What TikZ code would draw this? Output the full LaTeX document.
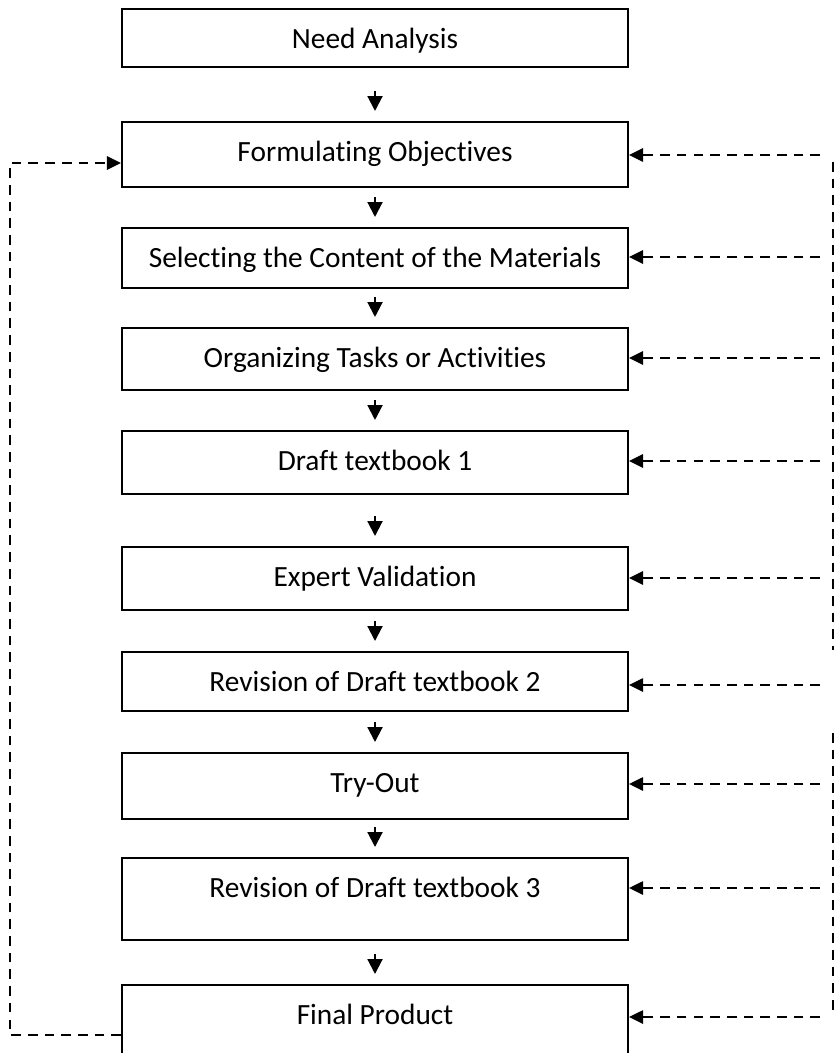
\documentclass[tikz,border=0pt]{standalone}
\usepackage{fontspec}
\setmainfont{Carlito}[Ligatures={NoCommon,NoContextual}]
\usetikzlibrary{calc,arrows.meta}

\begin{document}
\begin{tikzpicture}[%
        x=0.02cm, y=-0.02cm,
        every node/.style={font=\fontsize{16.7}{20}\selectfont},
        stage/.style={rectangle, draw=black, line width=1.2pt, inner xsep=0pt, inner ysep=0pt,
            minimum width=10.12cm, anchor=north, text height=0.78cm},
        flow/.style={line width=1.2pt, -{Triangle[length=8.5pt,width=8.5pt]}},
        feedback/.style={line width=1.3pt, dash pattern=on 5.5pt off 4pt},
        back/.style={feedback, -{Triangle[length=8pt,width=7.5pt]}}
        ]
    \path[use as bounding box, clip] (0,0) rectangle (837,1053);
    % the stages, top to bottom
    \foreach \name/\top/\bot/\txt in {n1/8/66/Need Analysis,
            n2/121/186/Formulating Objectives,
            n3/227/287/Selecting the Content of the Materials,
            n4/327/389/Organizing Tasks or Activities,
            n5/430/493/Draft textbook 1,
            n6/546/609/Expert Validation,
            n7/651/710/Revision of Draft textbook 2,
            n8/752/818/Try-Out,
            n9/857/939/Revision of Draft textbook 3,
            n10/984/1070/Final Product}{
        \pgfmathsetmacro\dep{(\bot-\top-39)*0.02}
        \node[stage, text depth=\dep cm] (\name) at (375,\top) {\txt};
    }
    \foreach \a/\b in {n1/n2, n2/n3, n3/n4, n4/n5, n5/n6, n6/n7, n7/n8, n8/n9, n9/n10}
        \draw[flow] (\b.north) ++(0,-30) -- ++(0,20);
    % feedback on the right
    \coordinate (rtop) at (833,162);
    \coordinate (rmidA) at (833,650);
    \coordinate (rmidB) at (833,733);
    \coordinate (rbot) at (833,1015);
    \draw[feedback] (rtop) -- (rmidA);
    \draw[feedback] (rmidB) -- (rbot);
    \foreach \n/\y in {n2/155, n3/257, n4/358, n5/461, n6/578, n7/685, n8/784, n9/888, n10/1017}{
        \coordinate (r\n) at (820,\y);
        \draw[back] (r\n) -- (r\n -| \n.east);
    }
    % loop on the left
    \coordinate (lb) at (10,1035);
    \coordinate (lt) at (10,163);
    \draw[back] (n10.west |- lb) -- (lb) -- (lt) -- (lt -| n2.west);
\end{tikzpicture}
\end{document}
